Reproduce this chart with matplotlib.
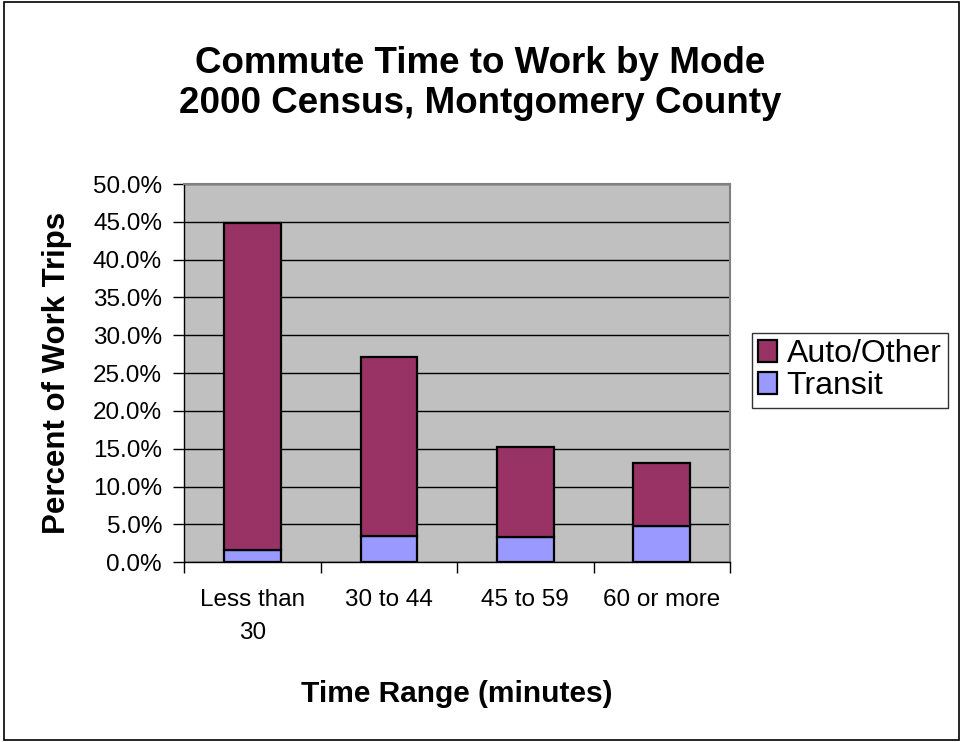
import matplotlib
matplotlib.use("Agg")
import matplotlib.pyplot as plt
from matplotlib.patches import Rectangle
from matplotlib.ticker import FuncFormatter, FixedLocator
import numpy as np

plt.rcParams['font.family'] = ['Liberation Sans', 'DejaVu Sans']

categories = ["Less than\n30", "30 to 44", "45 to 59", "60 or more"]
transit = [1.6, 3.5, 3.4, 4.8]
auto_other = [43.2, 23.6, 11.9, 8.3]

AUTO_COLOR = "#993366"
TRANSIT_COLOR = "#9999FF"
PLOT_BG = "#C0C0C0"

fig = plt.figure(figsize=(9.61, 7.42), dpi=100)
fig.patch.set_facecolor("white")
fig.add_artist(Rectangle((0.004, 0.003), 0.994, 0.994, transform=fig.transFigure,
                         fill=False, edgecolor="black", linewidth=1.2))

ax = fig.add_axes([0.1918, 0.2422, 0.5678, 0.5098])
ax.set_facecolor(PLOT_BG)

x = np.arange(len(categories))
w = 0.415
ax.bar(x, transit, width=w, color=TRANSIT_COLOR, edgecolor="black",
       linewidth=1.6, label="Transit", zorder=3)
ax.bar(x, auto_other, width=w, bottom=transit, color=AUTO_COLOR,
       edgecolor="black", linewidth=1.6, label="Auto/Other", zorder=3)

ax.set_xlim(-0.5, len(categories) - 0.5)
ax.set_ylim(0, 50)
ax.set_yticks(np.arange(0, 50.1, 5))
ax.yaxis.set_major_formatter(FuncFormatter(lambda v, p: f"{v:.1f}%"))
ax.yaxis.grid(True, color="black", linewidth=1.0, zorder=1)
ax.set_axisbelow(True)

ax.set_xticks(x)
ax.set_xticklabels(categories, fontsize=17.5, linespacing=1.65, va="top")
ax.xaxis.set_minor_locator(FixedLocator(np.arange(-0.5, len(categories), 1.0)))
ax.tick_params(axis="x", which="major", length=0, pad=19)
ax.tick_params(axis="x", which="minor", length=8, width=1.0, direction="out")
ax.tick_params(axis="y", which="major", length=8, width=1.0, direction="out",
               labelsize=17.5, pad=8)

for side in ("top", "right"):
    ax.spines[side].set_color("#808080")
    ax.spines[side].set_linewidth(1.5)
ax.spines["left"].set_color("black")
ax.spines["bottom"].set_color("black")
ax.spines["left"].set_linewidth(1.0)
ax.spines["bottom"].set_linewidth(1.0)

ax.set_ylabel("Percent of Work Trips", fontsize=22.5, fontweight="bold")
ax.yaxis.set_label_coords(-0.205, 0.5)
ax.set_xlabel("Time Range (minutes)", fontsize=21.5, fontweight="bold")
ax.xaxis.set_label_coords(0.5, -0.31)

fig.text(0.5, 0.915, "Commute Time to Work by Mode", ha="center", va="center",
         fontsize=26.5, fontweight="bold")
fig.text(0.5, 0.860, "2000 Census, Montgomery County", ha="center", va="center",
         fontsize=26.5, fontweight="bold")

handles, labels = ax.get_legend_handles_labels()
leg = fig.legend(handles[::-1], labels[::-1], loc="center left",
                 bbox_to_anchor=(0.782, 0.501), fontsize=23, frameon=True,
                 fancybox=False, edgecolor="black", handlelength=0.6,
                 handleheight=0.7, handletextpad=0.3, borderpad=0.2,
                 labelspacing=0.06, borderaxespad=0)
leg.get_frame().set_linewidth(1.0)

fig.savefig("out.png", dpi=100)
